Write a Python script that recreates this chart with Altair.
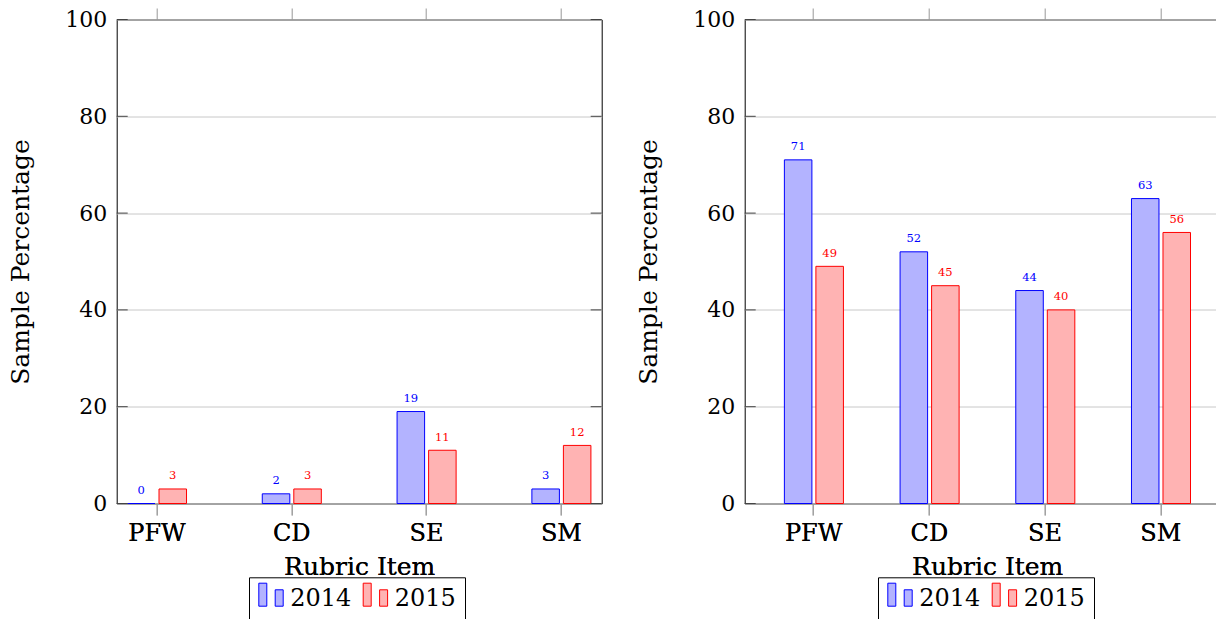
import altair as alt
import pandas as pd

items = ["PFW", "CD", "SE", "SM"]
years = ["2014", "2015"]
left_2014 = [0, 2, 19, 3]
left_2015 = [3, 3, 11, 12]
right_2014 = [71, 52, 44, 63]
right_2015 = [49, 45, 40, 56]
y_ticks = [0, 20, 40, 60, 80, 100]

FONT = "DejaVu Serif"
fill_colors = ["#b3b3ff", "#ffb3b3"]
stroke_colors = ["#0000ff", "#ff0000"]

W, H = 485, 484

LEGEND_PATH = "M-0.976,-1.288H-0.336V0.552H-0.976Z M0.336,-0.76H0.976V0.552H0.336Z"


def make_df(v14, v15):
    rows = []
    for it, a, b in zip(items, v14, v15):
        rows.append({"item": it, "year": "2014", "value": a})
        rows.append({"item": it, "year": "2015", "value": b})
    return pd.DataFrame(rows)


def panel(df, pad_inner, pad_outer, off_inner, leg_x):
    xscale = alt.Scale(domain=items, paddingInner=pad_inner, paddingOuter=pad_outer)
    x_bottom = alt.X(
        "item:N", scale=xscale, sort=items,
        axis=alt.Axis(orient="bottom", title="Rubric Item", labelAngle=0, domain=False,
                      ticks=True, tickColor="#999999", tickSize=11.5, labelPadding=6,
                      labelFont=FONT, labelFontSize=24, labelColor="black",
                      titleFont=FONT, titleFontSize=25, titleFontWeight="normal",
                      titleColor="black", titlePadding=9, grid=False))
    x_top = alt.X(
        "item:N", scale=xscale, sort=items,
        axis=alt.Axis(orient="top", labels=False, title=None, domain=False,
                      ticks=True, tickColor="#999999", tickSize=11.5, grid=False))
    xo = alt.XOffset("year:N", sort=years,
                     scale=alt.Scale(domain=years, paddingInner=off_inner, paddingOuter=0))
    y_enc = alt.Y(
        "value:Q", scale=alt.Scale(domain=[0, 100], nice=False, zero=True),
        axis=alt.Axis(values=y_ticks, ticks=False, domain=False, grid=True,
                      gridColor="#c8c8c8", labelFont=FONT, labelFontSize=22,
                      labelColor="black", labelPadding=10, title="Sample Percentage",
                      titleFont=FONT, titleFontSize=25, titleFontWeight="normal",
                      titleColor="black", titlePadding=31.7))
    leg = alt.Legend(title=None, orient="none", legendX=leg_x, legendY=557.8,
                     direction="horizontal", symbolType=LEGEND_PATH, symbolSize=625,
                     symbolStrokeWidth=1, labelFont=FONT, labelFontSize=24,
                     labelColor="black", labelOffset=6.3, columnPadding=8.4, padding=9,
                     strokeColor="black",
                     labelExpr="datum.label == '2015' ? datum.label + '\u00a0' : datum.label")
    base = alt.Chart(df)
    bars = base.mark_bar(strokeWidth=1, fillOpacity=1).encode(
        x=x_bottom, xOffset=xo, y=y_enc,
        fill=alt.Fill("year:N", sort=years, scale=alt.Scale(domain=years, range=fill_colors), legend=leg),
        stroke=alt.Stroke("year:N", sort=years, scale=alt.Scale(domain=years, range=stroke_colors), legend=leg),
    )
    text = base.mark_text(baseline="middle", dy=-12.5, font=FONT, fontSize=11.5).encode(
        x=x_bottom, xOffset=xo, y=y_enc,
        text=alt.Text("value:Q"),
        color=alt.Color("year:N", scale=alt.Scale(domain=years, range=stroke_colors), legend=None),
    )
    tick_df = pd.DataFrame({"value": y_ticks})
    lticks = alt.Chart(tick_df).mark_rule(color="#444444", strokeWidth=1).encode(
        x=alt.value(0), x2=alt.value(11), y=y_enc)
    rticks = alt.Chart(tick_df).mark_rule(color="#444444", strokeWidth=1).encode(
        x=alt.value(W - 11), x2=alt.value(W), y=y_enc)
    top = base.mark_point(opacity=0).encode(x=x_top)
    return alt.layer(bars, text, lticks, rticks, top).resolve_axis(
        x="independent").properties(width=W, height=H)


left = panel(make_df(left_2014, left_2015), 0.562, 0.08, 0.127, 132.3)
right = panel(make_df(right_2014, right_2015), 0.494, 0.343, 0.166, 133.3)

chart = (
    alt.hconcat(left, right, spacing=32)
    .resolve_scale(fill="independent", stroke="independent", color="independent")
    .resolve_legend(fill="independent", stroke="independent", color="independent")
    .properties(autosize=alt.AutoSizeParams(type="none"),
                padding={"left": 108.7, "top": 11.5, "right": 1099.3, "bottom": 584.5})
    .configure_view(stroke="black", strokeWidth=1)
)

chart.save("out.html", embed_options={"renderer": "svg", "actions": False})
